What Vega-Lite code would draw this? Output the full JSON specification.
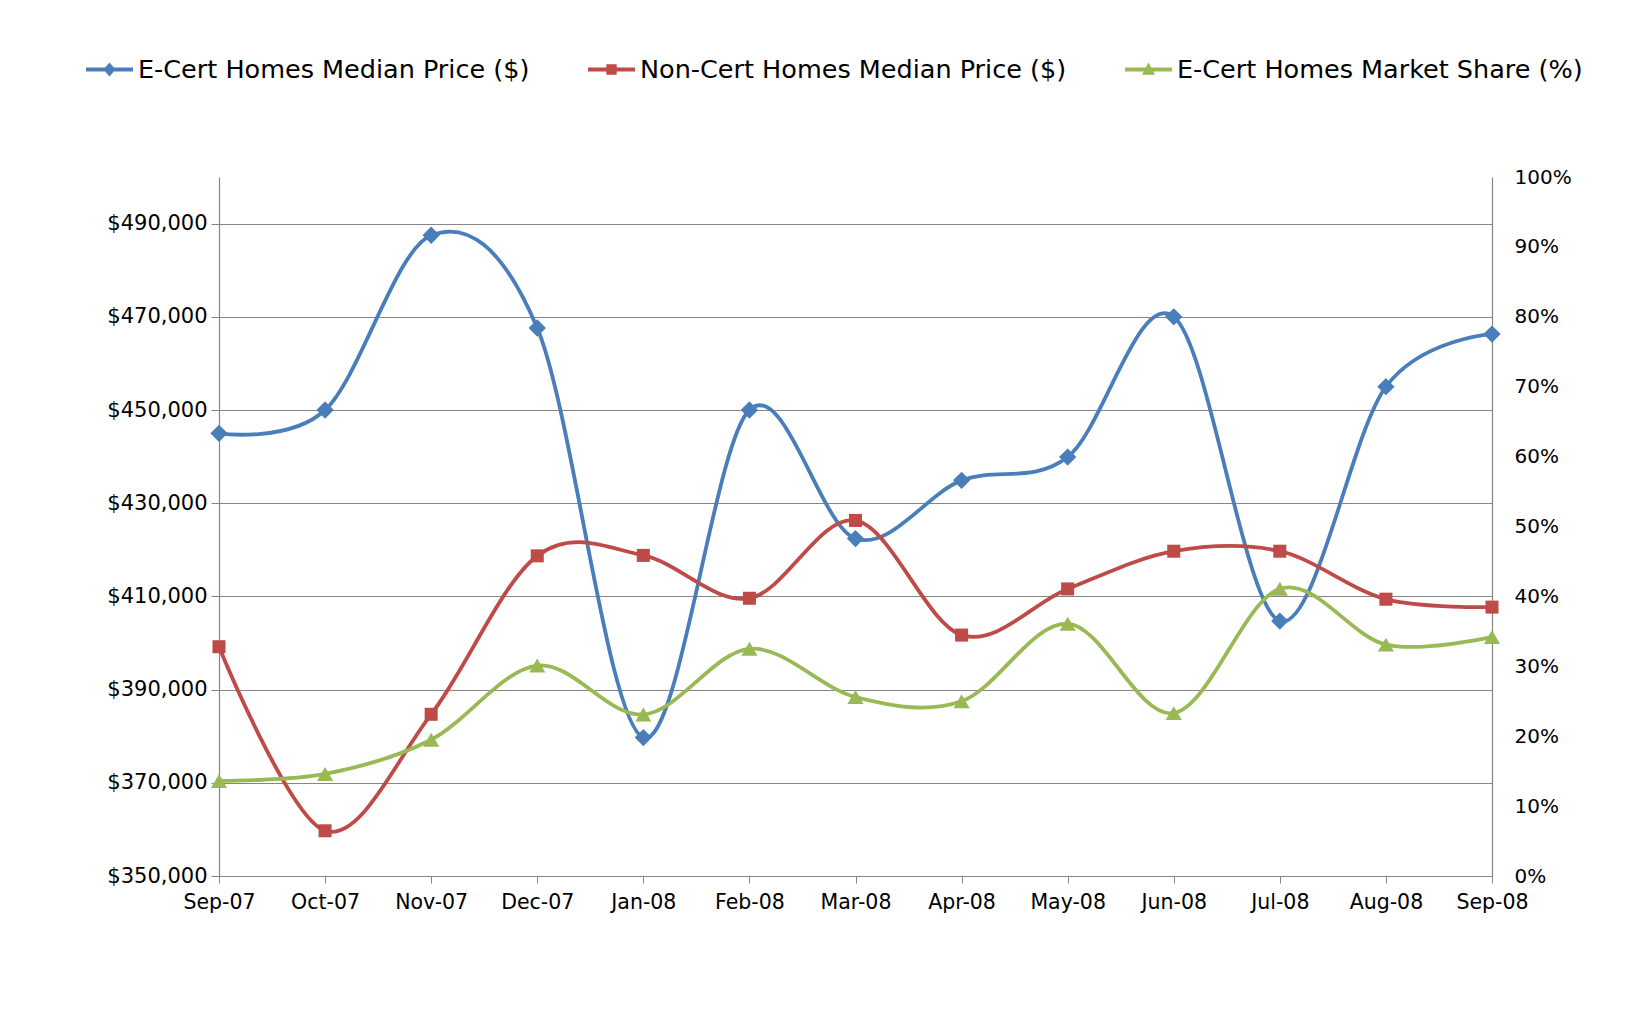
{
  "$schema": "https://vega.github.io/schema/vega-lite/v6.json",
  "width": 1273,
  "height": 699,
  "autosize": {"type": "none"},
  "padding": {"left": 219, "top": 177, "right": 144, "bottom": 140},
  "background": "white",
  "config": {
    "view": {"stroke": null},
    "font": "DejaVu Sans"
  },
  "data": {
    "values": [
      {"month": "Sep-07", "series": "E-Cert Homes Median Price ($)", "price": 445000},
      {"month": "Oct-07", "series": "E-Cert Homes Median Price ($)", "price": 450000},
      {"month": "Nov-07", "series": "E-Cert Homes Median Price ($)", "price": 487500},
      {"month": "Dec-07", "series": "E-Cert Homes Median Price ($)", "price": 467600},
      {"month": "Jan-08", "series": "E-Cert Homes Median Price ($)", "price": 379700},
      {"month": "Feb-08", "series": "E-Cert Homes Median Price ($)", "price": 450000},
      {"month": "Mar-08", "series": "E-Cert Homes Median Price ($)", "price": 422400},
      {"month": "Apr-08", "series": "E-Cert Homes Median Price ($)", "price": 434900},
      {"month": "May-08", "series": "E-Cert Homes Median Price ($)", "price": 439900},
      {"month": "Jun-08", "series": "E-Cert Homes Median Price ($)", "price": 470000},
      {"month": "Jul-08", "series": "E-Cert Homes Median Price ($)", "price": 404700},
      {"month": "Aug-08", "series": "E-Cert Homes Median Price ($)", "price": 455000},
      {"month": "Sep-08", "series": "E-Cert Homes Median Price ($)", "price": 466300},
      {"month": "Sep-07", "series": "Non-Cert Homes Median Price ($)", "price": 399200},
      {"month": "Oct-07", "series": "Non-Cert Homes Median Price ($)", "price": 359700},
      {"month": "Nov-07", "series": "Non-Cert Homes Median Price ($)", "price": 384700},
      {"month": "Dec-07", "series": "Non-Cert Homes Median Price ($)", "price": 418700},
      {"month": "Jan-08", "series": "Non-Cert Homes Median Price ($)", "price": 418800},
      {"month": "Feb-08", "series": "Non-Cert Homes Median Price ($)", "price": 409600},
      {"month": "Mar-08", "series": "Non-Cert Homes Median Price ($)", "price": 426300},
      {"month": "Apr-08", "series": "Non-Cert Homes Median Price ($)", "price": 401700},
      {"month": "May-08", "series": "Non-Cert Homes Median Price ($)", "price": 411600},
      {"month": "Jun-08", "series": "Non-Cert Homes Median Price ($)", "price": 419700},
      {"month": "Jul-08", "series": "Non-Cert Homes Median Price ($)", "price": 419700},
      {"month": "Aug-08", "series": "Non-Cert Homes Median Price ($)", "price": 409400},
      {"month": "Sep-08", "series": "Non-Cert Homes Median Price ($)", "price": 407700},
      {"month": "Sep-07", "series": "E-Cert Homes Market Share (%)", "share": 0.136},
      {"month": "Oct-07", "series": "E-Cert Homes Market Share (%)", "share": 0.146},
      {"month": "Nov-07", "series": "E-Cert Homes Market Share (%)", "share": 0.195},
      {"month": "Dec-07", "series": "E-Cert Homes Market Share (%)", "share": 0.301},
      {"month": "Jan-08", "series": "E-Cert Homes Market Share (%)", "share": 0.231},
      {"month": "Feb-08", "series": "E-Cert Homes Market Share (%)", "share": 0.325},
      {"month": "Mar-08", "series": "E-Cert Homes Market Share (%)", "share": 0.256},
      {"month": "Apr-08", "series": "E-Cert Homes Market Share (%)", "share": 0.250},
      {"month": "May-08", "series": "E-Cert Homes Market Share (%)", "share": 0.361},
      {"month": "Jun-08", "series": "E-Cert Homes Market Share (%)", "share": 0.233},
      {"month": "Jul-08", "series": "E-Cert Homes Market Share (%)", "share": 0.411},
      {"month": "Aug-08", "series": "E-Cert Homes Market Share (%)", "share": 0.331},
      {"month": "Sep-08", "series": "E-Cert Homes Market Share (%)", "share": 0.342}
    ]
  },
  "encoding": {
    "x": {
      "field": "month",
      "type": "ordinal",
      "scale": {"type": "point", "padding": 0, "domain": ["Sep-07","Oct-07","Nov-07","Dec-07","Jan-08","Feb-08","Mar-08","Apr-08","May-08","Jun-08","Jul-08","Aug-08","Sep-08"]},
      "axis": {
        "title": null,
        "labelAngle": 0,
        "labelFont": "DejaVu Sans",
        "labelFontSize": 20.5,
        "labelColor": "#000000",
        "labelPadding": 9,
        "tickSize": 7,
        "tickColor": "#868686",
        "domainColor": "#868686",
        "domainWidth": 1.2,
        "grid": false
      }
    },
    "color": {
      "field": "series",
      "type": "nominal",
      "scale": {
        "domain": ["E-Cert Homes Median Price ($)", "Non-Cert Homes Median Price ($)", "E-Cert Homes Market Share (%)"],
        "range": ["#4A7EBB", "#BE4B48", "#98B954"]
      },
      "legend": {
        "orient": "none",
        "legendX": -133,
        "legendY": -131,
        "direction": "horizontal",
        "title": null,
        "labelFont": "DejaVu Sans",
        "labelFontSize": 25.5,
        "labelLimit": 0,
        "labelColor": "#000000",
        "labelOffset": 5,
        "symbolSize": 2209,
        "columnPadding": 58,
        "symbolStrokeWidth": 0,
        "encode": {
          "symbols": {
            "update": {
              "shape": {"signal": "datum.value == 'E-Cert Homes Median Price ($)' ? 'M-1,-0.085L1,-0.085L1,0.085L-1,0.085Z M0,-0.3L0.26,0L0,0.3L-0.26,0Z' : datum.value == 'Non-Cert Homes Median Price ($)' ? 'M-1,-0.085L1,-0.085L1,0.085L-1,0.085Z M-0.22,-0.22L0.22,-0.22L0.22,0.22L-0.22,0.22Z' : 'M-1,-0.085L1,-0.085L1,0.085L-1,0.085Z M0,-0.3L0.28,0.22L-0.28,0.22Z'"},
              "fill": {"scale": "color", "field": "value"},
              "fillOpacity": {"value": 1},
              "strokeWidth": {"value": 0}
            }
          }
        }
      }
    }
  },
  "layer": [
    {
      "transform": [{"filter": "datum.price != null"}],
      "encoding": {
        "y": {
          "field": "price",
          "type": "quantitative",
          "scale": {"domain": [350000, 500000], "nice": false, "zero": false},
          "axis": {
            "orient": "left",
            "title": null,
            "values": [350000, 370000, 390000, 410000, 430000, 450000, 470000, 490000],
            "format": "$,.0f",
            "labelFont": "DejaVu Sans",
            "labelFontSize": 21,
            "labelColor": "#000000",
            "labelPadding": 4,
            "tickSize": 8,
            "tickColor": "#868686",
            "domainColor": "#868686",
            "domainWidth": 1.2,
            "grid": true,
            "gridColor": "#868686",
            "gridWidth": 1.2
          }
        }
      },
      "layer": [
        {"mark": {"type": "line", "interpolate": "cardinal", "tension": 0, "strokeWidth": 3.8}},
        {
          "mark": {"type": "point", "filled": true, "opacity": 1},
          "encoding": {
            "shape": {
              "field": "series",
              "type": "nominal",
              "scale": {"domain": ["E-Cert Homes Median Price ($)", "Non-Cert Homes Median Price ($)"], "range": ["diamond", "square"]},
              "legend": null
            },
            "size": {
              "field": "series",
              "type": "nominal",
              "scale": {"domain": ["E-Cert Homes Median Price ($)", "Non-Cert Homes Median Price ($)"], "range": [300, 170]},
              "legend": null
            }
          }
        }
      ]
    },
    {
      "transform": [{"filter": "datum.share != null"}],
      "encoding": {
        "y": {
          "field": "share",
          "type": "quantitative",
          "scale": {"domain": [0, 1], "nice": false},
          "axis": {
            "orient": "right",
            "title": null,
            "values": [0, 0.1, 0.2, 0.3, 0.4, 0.5, 0.6, 0.7, 0.8, 0.9, 1],
            "format": ".0%",
            "labelFont": "DejaVu Sans",
            "labelFontSize": 20,
            "labelColor": "#000000",
            "labelPadding": 22,
            "ticks": false,
            "domainColor": "#868686",
            "domainWidth": 1.2,
            "grid": false
          }
        }
      },
      "layer": [
        {"mark": {"type": "line", "interpolate": "cardinal", "tension": 0, "strokeWidth": 3.8}},
        {
          "mark": {"type": "point", "filled": true, "opacity": 1, "size": 260, "shape": "triangle-up"}
        }
      ]
    }
  ],
  "resolve": {"scale": {"y": "independent", "shape": "independent", "size": "independent"}, "axis": {"y": "independent"}}
}
